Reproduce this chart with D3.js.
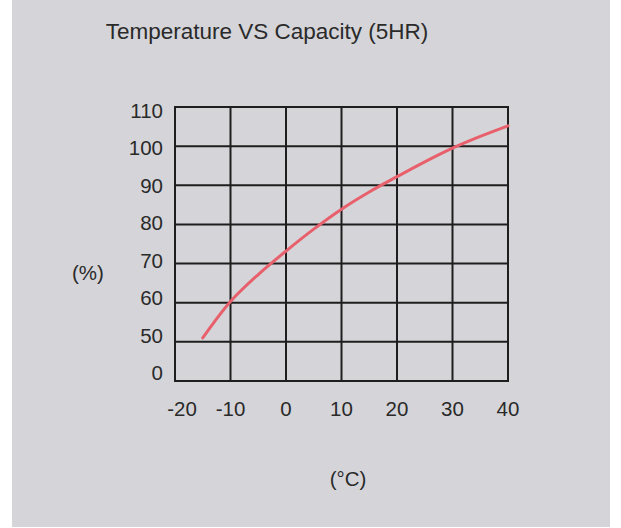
<!DOCTYPE html>
<html>
<head>
<meta charset="utf-8">
<script src="https://cdn.jsdelivr.net/npm/d3@7"></script>
<style>
  body { margin: 0; background: #fff; }
  text { font-family: "Liberation Sans", Arial, sans-serif; fill: #2a2a2a; }
</style>
</head>
<body>
<div id="chart"></div>
<script>
// temperature (°C) vs capacity (%)
var temps = [-15, -10, -5, 0, 5, 10, 15, 20, 25, 30, 35, 40];
var capacity = [51, 60.3, 67.2, 73.2, 78.8, 83.9, 88.3, 92.2, 96, 99.5, 102.5, 105.2];
var xTicks = [-20, -10, 0, 10, 20, 30, 40];
var yTicks = [0, 50, 60, 70, 80, 90, 100, 110];

var width = 621, height = 528;
var gLeft = 175, gRight = 508, gTop = 107, gBottom = 381;

var svg = d3.select("#chart").append("svg")
    .attr("width", width)
    .attr("height", height);

// grey panel
svg.append("rect")
    .attr("x", 12).attr("y", 0)
    .attr("width", 598).attr("height", 527)
    .attr("fill", "#d5d5d9");

var x = d3.scaleLinear().domain([-20, 40]).range([gLeft, gRight]);
// axis jumps from 0 straight to 50
var yStep = (gBottom - gTop) / 7;
var y = d3.scaleLinear().domain([0, 50, 110]).range([gBottom, gBottom - yStep, gTop]);
// the tick labels sit on a slightly tighter spacing than the grid
var yLab = d3.scalePoint().domain(yTicks).range([373, 111]);

// grid
svg.selectAll("line.v")
    .data(xTicks)
    .enter().append("line")
    .attr("class", "v")
    .attr("x1", d => x(d)).attr("x2", d => x(d))
    .attr("y1", gTop).attr("y2", gBottom)
    .attr("stroke", "#1e1e1e").attr("stroke-width", 2);

svg.selectAll("line.h")
    .data(yTicks)
    .enter().append("line")
    .attr("class", "h")
    .attr("x1", gLeft - 1).attr("x2", gRight + 1)
    .attr("y1", d => y(d)).attr("y2", d => y(d))
    .attr("stroke", "#1e1e1e").attr("stroke-width", 2);

// curve
var line = d3.line()
    .x((d, i) => x(temps[i]))
    .y(d => y(d))
    .curve(d3.curveCatmullRom);

svg.append("path")
    .datum(capacity)
    .attr("d", line)
    .attr("fill", "none")
    .attr("stroke", "#e8606c")
    .attr("stroke-width", 3)
    .attr("stroke-linecap", "round");

// tick labels
svg.selectAll("text.xl")
    .data(xTicks)
    .enter().append("text")
    .attr("x", d => x(d) + (d === -20 ? 7 : 0))
    .attr("y", 416)
    .attr("text-anchor", "middle")
    .attr("font-size", 20.5)
    .text(d => d);

svg.selectAll("text.yl")
    .data(yTicks)
    .enter().append("text")
    .attr("x", 163)
    .attr("y", d => yLab(d) + 7)
    .attr("text-anchor", "end")
    .attr("font-size", 20.5)
    .text(d => d);

// titles
svg.append("text")
    .attr("x", 267).attr("y", 39)
    .attr("text-anchor", "middle")
    .attr("font-size", 22.5)
    .text("Temperature VS Capacity (5HR)");

svg.append("text")
    .attr("x", 88).attr("y", 280)
    .attr("text-anchor", "middle")
    .attr("font-size", 20.5)
    .text("(%)");

svg.append("text")
    .attr("x", 348).attr("y", 486)
    .attr("text-anchor", "middle")
    .attr("font-size", 20.5)
    .text("(°C)");
</script>
</body>
</html>
